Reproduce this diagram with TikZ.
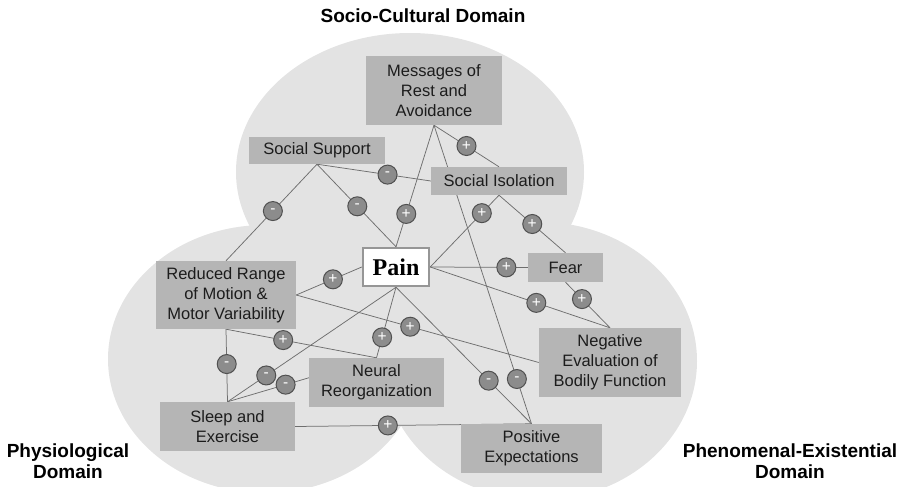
\documentclass[tikz,border=0pt]{standalone}
\usepackage{fontspec}
\setmainfont{Liberation Sans}
\newfontfamily\painfont{Liberation Serif}
\usetikzlibrary{calc}
\pgfdeclarelayer{back}
\pgfdeclarelayer{mid}
\pgfsetlayers{back,mid,main}
\definecolor{lobe}{RGB}{227,227,227}
\definecolor{boxgray}{RGB}{181,181,181}
\definecolor{txt}{RGB}{28,28,28}
\definecolor{linkgray}{RGB}{110,110,110}
\definecolor{signfill}{RGB}{140,140,140}
\definecolor{signdraw}{RGB}{80,80,80}
\definecolor{painborder}{RGB}{150,150,150}
\newcommand{\mneg}{\raisebox{-3pt}{-}}
\begin{document}
\begin{tikzpicture}[x=1pt,y=-1pt,
  box/.style={fill=boxgray, inner sep=0pt, align=center, text=txt,
    font=\fontsize{16.5}{20}\selectfont},
  painbox/.style={fill=white, draw=painborder, line width=2.5pt, inner sep=0pt,
    minimum width=66pt, minimum height=38pt, font=\painfont\bfseries\fontsize{24}{26}\selectfont},
  domlabel/.style={align=center, font=\bfseries\fontsize{19}{21}\selectfont, text=black},
  link/.style={draw=linkgray, line width=0.75pt},
  sgn/.style={circle, fill=signfill, draw=signdraw, line width=1pt,
    minimum size=19pt, inner sep=0pt, text=white,
    font=\fontsize{15.5}{15.5}\selectfont}]
\useasboundingbox (0,0) rectangle (900,487);

% lobes
\begin{pgfonlayer}{back}
  \fill[lobe] (410,172) ellipse [x radius=174, y radius=139];
  \fill[lobe] (265,359) ellipse [x radius=157, y radius=134];
  \fill[lobe] (540,361) ellipse [x radius=157, y radius=139];
\end{pgfonlayer}

% domain labels
\node[domlabel] (dsc) at (423,16) {Socio-Cultural Domain};
\node[domlabel] (dph) at (68,461.5) {Physiological\\Domain};
\node[domlabel] (dpe) at (790,461.5) {Phenomenal-Existential\\Domain};

% boxes
\node[box, minimum width=136pt, minimum height=69pt] (msg) at (434,90.5) {Messages of\\Rest and\\Avoidance};
\node[box, minimum width=136pt, minimum height=27pt] (ss) at (317,150.5) {Social Support};
\node[box, minimum width=136pt, minimum height=28pt] (si) at (499,181) {Social Isolation};
\node[painbox] (pain) at (396,267) {Pain};
\node[box, minimum width=140pt, minimum height=68pt] (rr) at (226,295) {Reduced Range\\of Motion \&\\Motor Variability};
\node[box, minimum width=135pt, minimum height=49pt] (nr) at (376.5,382.5) {Neural\\Reorganization};
\node[box, minimum width=135pt, minimum height=49pt] (se) at (227.5,426.5) {Sleep and\\Exercise};
\node[box, minimum width=75pt, minimum height=29pt] (fear) at (565.5,267.5) {Fear};
\node[box, minimum width=142pt, minimum height=69pt] (neg) at (610,362.5) {Negative\\Evaluation of\\Bodily Function};
\node[box, minimum width=141pt, minimum height=49pt] (pe) at (531.5,448.5) {Positive\\Expectations};

% connectors
\begin{pgfonlayer}{mid}
  \path[link] (ss.south) -- coordinate[pos=0.485] (m1) (rr.north);
  \path[link] (ss.south) -- coordinate[pos=0.51] (m2) (pain.north);
  \path[link] (ss.south) -- coordinate[pos=0.62] (m3) (si.west);
  \path[link] (msg.south) -- coordinate[pos=0.73] (m4) (pain.north);
  \path[link] (msg.south) -- coordinate[pos=0.5] (m5) (si.north);
  \path[link] (msg.south) -- coordinate[pos=0.85] (m6) (pe.north);
  \path[link] (si.south) -- coordinate[pos=0.25] (m7) (pain.east);
  \path[link] (si.south) -- coordinate[pos=0.5] (m8) (fear.north);
  \path[link] (pain.east) -- coordinate[pos=0.78] (m9) (fear.west);
  \path[link] (pain.east) -- coordinate[pos=0.59] (m10) (neg.north);
  \path[link] (fear.south) -- coordinate[pos=0.37] (m11) (neg.north);
  \path[link] (rr.east) -- coordinate[pos=0.56] (m12) (pain.west);
  \path[link] (rr.east) -- coordinate[pos=0.47] (m13) (neg.west);
  \path[link] (rr.south) -- coordinate[pos=0.38] (m14) (nr.north);
  \path[link] (rr.south) -- coordinate[pos=0.48] (m15) (se.north);
  \path[link] (pain.south) -- coordinate[pos=0.71] (m16) (nr.north);
  \path[link] (pain.south) -- coordinate[pos=0.77] (m17) (se.north);
  \path[link] (se.north) -- coordinate[pos=0.39] (m18) (nr.north);
  \path[link] (pain.south) -- coordinate[pos=0.684] (m19) (pe.north);
  \path[link] (se.east) -- coordinate[pos=0.392] (m20) (pe.north);
\end{pgfonlayer}

% signs
\node[sgn] (s1) at (m1) {\mneg};
\node[sgn] (s2) at (m2) {\mneg};
\node[sgn] (s3) at (m3) {\mneg};
\node[sgn] (s4) at (m4) {+};
\node[sgn] (s5) at (m5) {+};
\node[sgn] (s6) at (m6) {\mneg};
\node[sgn] (s7) at (m7) {+};
\node[sgn] (s8) at (m8) {+};
\node[sgn] (s9) at (m9) {+};
\node[sgn] (s10) at (m10) {+};
\node[sgn] (s11) at (m11) {+};
\node[sgn] (s12) at (m12) {+};
\node[sgn] (s13) at (m13) {+};
\node[sgn] (s14) at (m14) {+};
\node[sgn] (s15) at (m15) {\mneg};
\node[sgn] (s16) at (m16) {+};
\node[sgn] (s17) at (m17) {\mneg};
\node[sgn] (s18) at (m18) {\mneg};
\node[sgn] (s19) at (m19) {\mneg};
\node[sgn] (s20) at (m20) {+};
\end{tikzpicture}
\end{document}
